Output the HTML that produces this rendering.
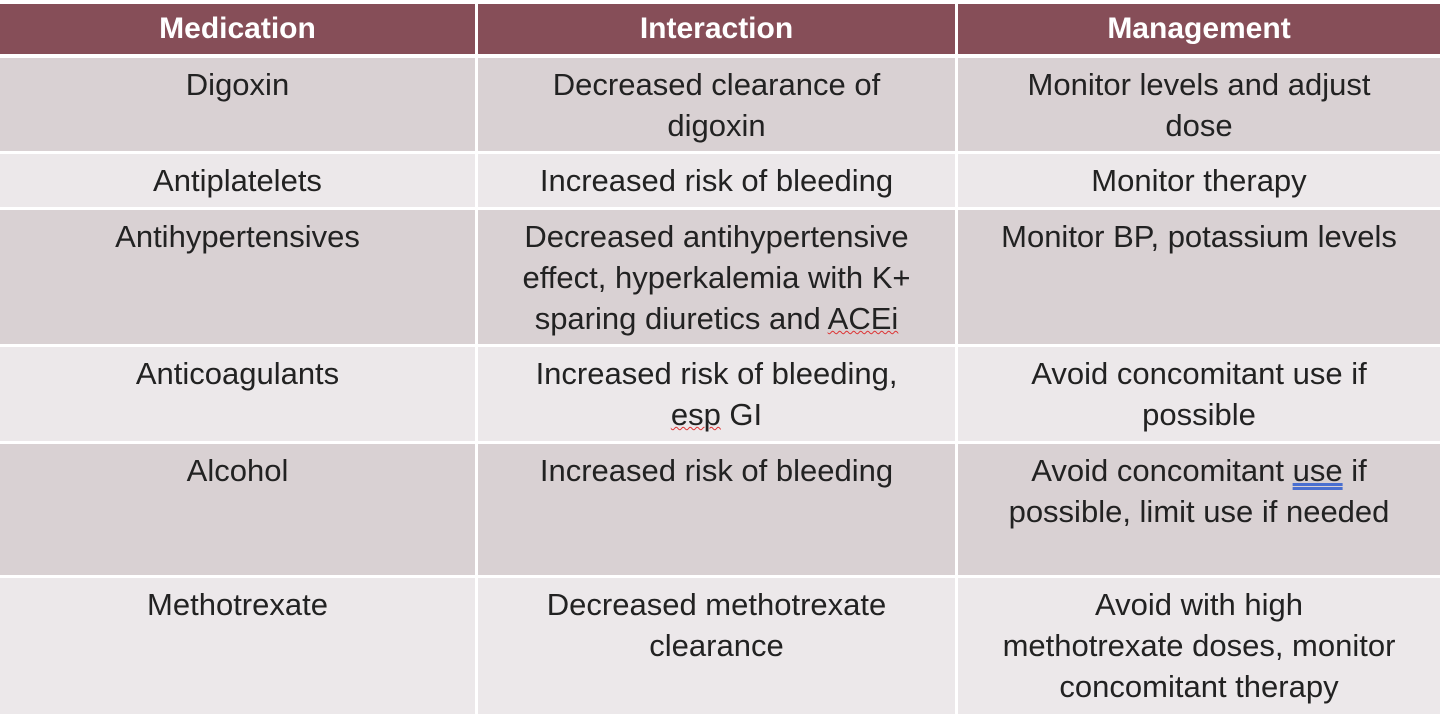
<!DOCTYPE html>
<html><head><meta charset="utf-8"><style>
body{margin:0;width:1440px;height:720px;background:#fff;overflow:hidden;font-family:"Liberation Sans",sans-serif}
.c{position:absolute;box-sizing:border-box;text-align:center;color:#222;font-size:31px;line-height:41px;padding-top:6px}
.h{background:#864e58;color:#fff;font-weight:bold;font-size:30px;line-height:50px;padding-top:0}
.d{background:#d9d1d3}.l{background:#ece8ea}
.sq{text-decoration:underline wavy #d33;text-decoration-thickness:1px}
.db{text-decoration:underline double #4a6fd0}
</style></head><body>
<div>
<div class="c h" style="left:0;top:4px;width:475px;height:50px">Medication</div>
<div class="c h" style="left:478px;top:4px;width:477px;height:50px">Interaction</div>
<div class="c h" style="left:958px;top:4px;width:482px;height:50px">Management</div>

<div class="c d" style="left:0;top:58px;width:475px;height:93px">Digoxin</div>
<div class="c d" style="left:478px;top:58px;width:477px;height:93px">Decreased clearance of<br>digoxin</div>
<div class="c d" style="left:958px;top:58px;width:482px;height:93px">Monitor levels and adjust<br>dose</div>

<div class="c l" style="left:0;top:154px;width:475px;height:53px">Antiplatelets</div>
<div class="c l" style="left:478px;top:154px;width:477px;height:53px">Increased risk of bleeding</div>
<div class="c l" style="left:958px;top:154px;width:482px;height:53px">Monitor therapy</div>

<div class="c d" style="left:0;top:210px;width:475px;height:134px">Antihypertensives</div>
<div class="c d" style="left:478px;top:210px;width:477px;height:134px">Decreased antihypertensive<br>effect, hyperkalemia with K+<br>sparing diuretics and <span class="sq">ACEi</span></div>
<div class="c d" style="left:958px;top:210px;width:482px;height:134px">Monitor BP, potassium levels</div>

<div class="c l" style="left:0;top:347px;width:475px;height:94px">Anticoagulants</div>
<div class="c l" style="left:478px;top:347px;width:477px;height:94px">Increased risk of bleeding,<br><span class="sq">esp</span> GI</div>
<div class="c l" style="left:958px;top:347px;width:482px;height:94px">Avoid concomitant use if<br>possible</div>

<div class="c d" style="left:0;top:444px;width:475px;height:131px">Alcohol</div>
<div class="c d" style="left:478px;top:444px;width:477px;height:131px">Increased risk of bleeding</div>
<div class="c d" style="left:958px;top:444px;width:482px;height:131px">Avoid concomitant <span class="db">use</span> if<br>possible, limit use if needed</div>

<div class="c l" style="left:0;top:578px;width:475px;height:136px">Methotrexate</div>
<div class="c l" style="left:478px;top:578px;width:477px;height:136px">Decreased methotrexate<br>clearance</div>
<div class="c l" style="left:958px;top:578px;width:482px;height:136px">Avoid with high<br>methotrexate doses, monitor<br>concomitant therapy</div>
</div>
</body></html>
